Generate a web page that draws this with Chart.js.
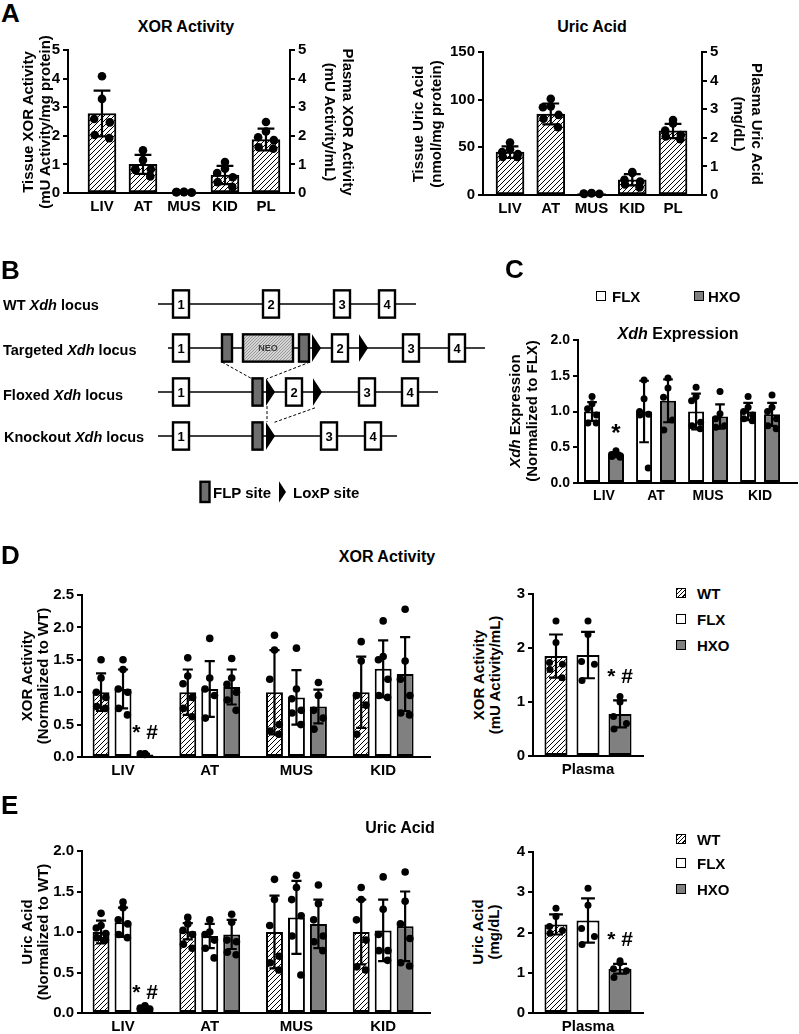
<!DOCTYPE html>
<html>
<head>
<meta charset="utf-8">
<script src="https://cdn.jsdelivr.net/npm/chart.js@4.4.1/dist/chart.umd.min.js"></script>
<style>
  html, body { margin: 0; padding: 0; background: #fff; }
  #page { position: relative; width: 799px; height: 1034px; overflow: hidden;
          font-family: "Liberation Sans", Arial, sans-serif; font-weight: bold; color: #000; }
  canvas { position: absolute; }
  .t { position: absolute; white-space: nowrap; line-height: 1; }
  .sw { position: absolute; width: 8px; height: 8px; border: 1.5px solid #000; }
</style>
</head>
<body>
<div id="page"></div>
<script>
// ================== data ==================
// A : tissue survey (WT mice)
const tissuesA = ["LIV", "AT", "MUS", "KID", "PL"];
const xorTicksA = [0, 1, 2, 3, 4, 5];
const xorTissueMean = [2.78, 1.00, 0.03, 0.63];
const xorTissueSd = [0.80, 0.33, 0.02, 0.32];
const xorTissuePts = [
  [4.08, 3.29, 2.59, 2.47, 2.03, 1.92],
  [1.49, 1.15, 0.83, 0.83, 0.80, 0.58],
  [0.04, 0.03, 0.03, 0.02, 0.03, 0.02],
  [1.08, 0.85, 0.70, 0.55, 0.38, 0.22],
];
const xorPlasmaMeanA = [1.87];
const xorPlasmaSdA = [0.38];
const xorPlasmaPtsA = [[2.48, 2.15, 1.95, 1.85, 1.60, 1.55]];

const uaTicksA = [0, 50, 100, 150];
const uaPlasmaTicksA = [0, 1, 2, 3, 4, 5];
const uaTissueMean = [45, 85, 1.5, 16];
const uaTissueSd = [6, 11, 0.5, 6];
const uaTissuePts = [
  [55, 48, 45, 43, 40, 40],
  [101, 93, 92, 84, 80, 71],
  [2.0, 1.8, 1.5, 1.2, 1.0],
  [24, 23, 16, 14, 11, 8],
];
const uaPlasmaMeanA = [2.24];
const uaPlasmaSdA = [0.25];
const uaPlasmaPtsA = [[2.62, 2.50, 2.25, 2.10, 2.05, 1.95]];

// C : Xdh expression, FLX vs HXO
const tissuesC = ["LIV", "AT", "MUS", "KID"];
const xdhTicks = [0, 0.5, 1.0, 1.5, 2.0];
const xdhFlxMean = [1.00, 1.00, 1.00, 1.00];
const xdhFlxSd = [0.13, 0.43, 0.25, 0.12];
const xdhFlxPts = [
  [1.21, 1.11, 1.04, 0.95, 0.84, 0.84],
  [1.44, 1.18, 1.00, 0.96, 0.95, 0.21],
  [1.34, 1.21, 1.15, 0.85, 0.80, 0.76],
  [1.21, 1.06, 1.00, 0.95, 0.90, 0.87],
];
const xdhHxoMean = [0.39, 1.15, 0.93, 0.96];
const xdhHxoSd = [0.03, 0.30, 0.17, 0.16];
const xdhHxoPts = [
  [0.45, 0.42, 0.40, 0.38, 0.37, 0.36],
  [1.47, 1.33, 1.20, 0.88, 0.74],
  [1.28, 0.97, 0.90, 0.80, 0.78],
  [1.23, 1.06, 1.00, 0.90, 0.80, 0.76],
];

// D : XOR activity, WT / FLX / HXO
const tissuesDE = ["LIV", "AT", "MUS", "KID"];
const plasmaCat = ["Plasma"];
const xorTicksD = [0, 0.5, 1.0, 1.5, 2.0, 2.5];
const xorWtMean = [1.00, 1.00, 1.00, 1.00];
const xorWtSd = [0.29, 0.35, 0.65, 0.55];
const xorWtPts = [
  [1.50, 1.22, 1.00, 0.92, 0.78, 0.75],
  [1.53, 1.25, 1.13, 0.92, 0.75, 0.62],
  [1.88, 1.65, 1.20, 0.50, 0.40, 0.35],
  [1.78, 1.48, 0.95, 0.80, 0.35],
];
const xorFlxMean = [1.05, 1.05, 0.92, 1.36];
const xorFlxSd = [0.30, 0.43, 0.42, 0.44];
const xorFlxPts = [
  [1.50, 1.35, 1.05, 1.00, 0.75, 0.65],
  [1.83, 1.22, 1.05, 0.95, 0.60],
  [1.68, 1.05, 0.90, 0.72, 0.68, 0.50],
  [2.10, 1.55, 1.50, 1.20, 0.95, 0.92],
];
const xorHxoMean = [0.04, 1.08, 0.78, 1.28];
const xorHxoSd = [0.01, 0.27, 0.26, 0.57];
const xorHxoPts = [
  [0.05, 0.04, 0.05],
  [1.52, 1.22, 1.12, 1.00, 0.88, 0.72],
  [1.15, 0.95, 0.72, 0.60, 0.43],
  [2.28, 1.48, 1.20, 0.95, 0.68, 0.65],
];
const xorPlasmaTicks = [0, 1, 2, 3];
const xorPlasmaMean = [1.85, 1.87, 0.78];          // WT, FLX, HXO
const xorPlasmaSd = [0.40, 0.43, 0.25];
const xorPlasmaPts = [
  [2.50, 2.10, 1.73, 1.70, 1.60, 1.45],
  [2.50, 2.25, 1.75, 1.70, 1.40],
  [1.10, 1.00, 0.73, 0.60, 0.50],
];

// E : uric acid, WT / FLX / HXO
const uaTicksE = [0, 0.5, 1.0, 1.5, 2.0];
const uaWtMean = [1.00, 1.01, 1.00, 1.00];
const uaWtSd = [0.14, 0.10, 0.45, 0.40];
const uaWtPts = [
  [1.23, 1.08, 1.05, 0.98, 0.93, 0.90],
  [1.18, 1.10, 1.02, 0.97, 0.85, 0.80],
  [1.65, 1.40, 1.08, 0.70, 0.62, 0.53],
  [1.55, 1.40, 1.15, 0.90, 0.57, 0.53],
];
const uaFlxMean = [1.12, 0.95, 1.18, 1.02];
const uaFlxSd = [0.18, 0.15, 0.45, 0.38];
const uaFlxPts = [
  [1.37, 1.30, 1.15, 1.10, 0.97, 0.93],
  [1.15, 1.00, 0.97, 0.90, 0.80, 0.68],
  [1.70, 1.55, 1.40, 1.20, 0.95, 0.47],
  [1.68, 1.28, 0.97, 0.77, 0.77, 0.65],
];
const uaHxoMean = [0.06, 0.97, 1.10, 1.07];
const uaHxoSd = [0.015, 0.18, 0.30, 0.43];
const uaHxoPts = [
  [0.09, 0.07, 0.06, 0.05, 0.05],
  [1.22, 1.12, 0.90, 0.88, 0.75, 0.72],
  [1.58, 1.35, 1.15, 0.95, 0.88, 0.77],
  [1.74, 1.38, 1.10, 0.92, 0.62, 0.58],
];
const uaPlasmaTicks = [0, 1, 2, 3, 4];
const uaPlasmaMean = [2.20, 2.30, 1.10];
const uaPlasmaSd = [0.25, 0.55, 0.12];
const uaPlasmaPts = [
  [2.60, 2.40, 2.15, 2.05, 1.98],
  [3.10, 2.68, 2.10, 1.90, 1.70],
  [1.30, 1.25, 1.10, 1.05, 0.88],
];

// B : gene targeting schematic (x = position along locus, row 0..3)
const lociLines = [[158, 416], [168, 485], [158, 438], [158, 397]];
const lociExons = [
  [["1", 181], ["2", 271], ["3", 342], ["4", 387]],
  [["1", 181], ["2", 340], ["3", 411], ["4", 457]],
  [["1", 181], ["2", 294], ["3", 367], ["4", 410]],
  [["1", 181], ["3", 329], ["4", 373]],
];
const lociFlp = [[], [227, 304], [257.5], [257.5]];
const lociLoxp = [[], [312, 359], [266, 313], [266]];
const neoSpan = [243, 293];
const flpLinks = [[222, 1.32, 252, 1.70], [310, 1.32, 267, 1.70], [267, 2.32, 267, 2.68], [315, 2.36, 273, 2.70]];
const keyRow = 4.27, keyFlpX = 205, keyLoxpX = 279;

// ================== helpers ==================
const FONT = '"Liberation Sans", Arial, sans-serif';
const JIT = [0, 0, -0.28, 0.28, -0.26, 0.26];
const page = document.getElementById("page");
Chart.defaults.font.family = FONT;
Chart.defaults.font.weight = "bold";
Chart.defaults.color = "#000";

function makeTile(s, bg, fg, lw) {
  const c = document.createElement("canvas");
  c.width = c.height = s;
  const g = c.getContext("2d");
  g.fillStyle = bg; g.fillRect(0, 0, s, s);
  g.strokeStyle = fg; g.lineWidth = lw;
  g.beginPath();
  for (const o of [-s, 0, s]) { g.moveTo(o, s); g.lineTo(o + s, 0); }
  g.stroke();
  return c;
}
const hatchTile = makeTile(5, "#fff", "#000", 1);
const neoTile = makeTile(3, "#d4d4d4", "#8c8c8c", 0.8);

function addCanvas(box) {
  const c = document.createElement("canvas");
  c.width = box.w; c.height = box.h;
  c.style.left = box.x + "px"; c.style.top = box.y + "px";
  page.appendChild(c);
  return c.getContext("2d");
}

function txt(html, x, y, size, opt = {}) {
  const d = document.createElement("div");
  d.className = "t";
  d.innerHTML = html;
  d.style.fontSize = size + "px";
  d.style.left = x + "px";
  d.style.top = y + "px";
  const rot = opt.rot ? ` rotate(${opt.rot}deg)` : "";
  d.style.transform = (opt.left ? "translate(0,-50%)" : "translate(-50%,-50%)") + rot;
  page.appendChild(d);
}

function swatch(x, y, fill) {
  const d = document.createElement("div");
  d.className = "sw";
  d.style.left = (x - 5.5) + "px";
  d.style.top = (y - 5.5) + "px";
  d.style.background = fill === "hatch"
    ? "repeating-linear-gradient(135deg, #000 0 1px, #fff 1px 3px)"
    : (fill === "gray" ? "#808080" : "#fff");
  page.appendChild(d);
}

// error bars (mean ± SD), individual points, significance marks
const errDots = {
  id: "errDots",
  afterDatasetsDraw(chart, args, o) {
    const ctx = chart.ctx;
    chart.data.datasets.forEach((ds, di) => {
      const meta = chart.getDatasetMeta(di);
      const ys = chart.scales[meta.yAxisID];
      meta.data.forEach((bar, j) => {
        const m = ds.data[j].y, sd = ds.sd[j];
        const x = bar.x, w = bar.width, cap = w * 0.3;
        const yt = ys.getPixelForValue(m + sd), yb = ys.getPixelForValue(Math.max(0, m - sd));
        ctx.save();
        ctx.strokeStyle = "#000"; ctx.lineWidth = 2.2;
        ctx.beginPath();
        ctx.moveTo(x, yt); ctx.lineTo(x, yb);
        ctx.moveTo(x - cap, yt); ctx.lineTo(x + cap, yt);
        ctx.moveTo(x - cap, yb); ctx.lineTo(x + cap, yb);
        ctx.stroke();
        ctx.fillStyle = "#000";
        ds.pts[j].forEach((v, k) => {
          ctx.beginPath();
          ctx.arc(x + JIT[k % JIT.length] * w, ys.getPixelForValue(v), o.r, 0, Math.PI * 2);
          ctx.fill();
        });
        ctx.restore();
      });
    });
    (o.notes || []).forEach(n => {
      const meta = chart.getDatasetMeta(n.ds);
      const el = meta.data[n.i];
      ctx.save();
      ctx.font = `bold ${n.size || 21}px ${FONT}`;
      ctx.fillStyle = "#000";
      ctx.textAlign = "center";
      ctx.textBaseline = "middle";
      ctx.fillText(n.text, el.x, chart.scales[meta.yAxisID].getPixelForValue(n.y));
      ctx.restore();
    });
  },
};

function yAxis(a, box, area, fs) {
  const right = a.pos === "right";
  return {
    type: "linear", position: right ? "right" : "left",
    min: a.ticks[0], max: a.ticks[a.ticks.length - 1],
    afterFit: s => { s.width = right ? box.x + box.w - area.r : area.l - box.x; },
    afterBuildTicks: s => { s.ticks = a.ticks.map(v => ({ value: v })); },
    ticks: { font: { size: fs, weight: "bold" }, color: "#000", padding: 3,
             callback: v => Number(v).toFixed(a.dec || 0) },
    grid: { drawOnChartArea: false, drawTicks: true, tickLength: 5, color: "#000", lineWidth: 2 },
    border: { color: "#000", width: 2 },
  };
}

function barChart(box, area, cfg) {
  const ctx = addCanvas(box);
  const fills = { hatch: ctx.createPattern(hatchTile, "repeat"), white: "#fff", gray: "#808080" };
  const hasRight = cfg.axes.some(a => a.pos === "right");
  const datasets = cfg.series.map(s => ({
    data: s.mean.map((m, i) => ({ x: (s.x0 || 1) + i, y: m })),
    backgroundColor: fills[s.fill], borderColor: "#000", borderWidth: 2, borderSkipped: false,
    yAxisID: s.axis || "y", sd: s.sd, pts: s.pts,
    barPercentage: cfg.bp, categoryPercentage: cfg.cp, barThickness: cfg.thick,
    grouped: cfg.grouped !== false,
  }));
  const scales = {
    x: {
      type: "linear", min: cfg.xMin, max: cfg.xMax, offset: false,
      afterFit: s => { s.height = box.y + box.h - area.b; },
      afterBuildTicks: s => { s.ticks = cfg.cats.map((c, i) => ({ value: i + 1 })); },
      ticks: { autoSkip: false, maxRotation: 0, padding: 5, color: "#000",
               font: { size: cfg.fs, weight: "bold" },
               callback: v => cfg.cats[Math.round(v) - 1] },
      grid: { display: false, drawTicks: false },
      border: { color: "#000", width: 2 },
    },
  };
  cfg.axes.forEach(a => { scales[a.id] = yAxis(a, box, area, cfg.fs); });
  new Chart(ctx, {
    type: "bar",
    data: { datasets },
    options: {
      responsive: false, animation: false,
      layout: { padding: { top: area.t - box.y, right: hasRight ? 0 : box.x + box.w - area.r, left: 0, bottom: 0 } },
      plugins: { legend: { display: false }, tooltip: { enabled: false },
                 errDots: { r: cfg.r, notes: cfg.notes } },
      scales,
    },
    plugins: [errDots],
  });
}

// three genotype series for panels D / E
function genoSeries(means, sds, pts) {
  const fills = ["hatch", "white", "gray"];
  return means.map((m, k) => ({ mean: m, sd: sds[k], pts: pts[k], fill: fills[k] }));
}
function plasmaSeries(mean, sd, pts) {
  const fills = ["hatch", "white", "gray"];
  return mean.map((m, k) => ({ mean: [m], sd: [sd[k]], pts: [pts[k]], fill: fills[k] }));
}

// ================== panel B schematic ==================
const lociDraw = {
  id: "lociDraw",
  afterDatasetsDraw(chart) {
    const ctx = chart.ctx, xs = chart.scales.x, ys = chart.scales.y;
    const px = v => xs.getPixelForValue(v), py = v => ys.getPixelForValue(v);
    const H = 0.62;
    const neo = ctx.createPattern(neoTile, "repeat");
    function box(x0, x1, r, h, fill) {
      const l = px(x0), t = py(r - h / 2), w = px(x1) - l, hh = py(r + h / 2) - t;
      ctx.fillStyle = fill; ctx.fillRect(l, t, w, hh);
      ctx.strokeStyle = "#000"; ctx.lineWidth = 2.4; ctx.strokeRect(l, t, w, hh);
    }
    function lox(x, r, w, h) {
      ctx.fillStyle = "#000";
      ctx.beginPath();
      ctx.moveTo(px(x), py(r - h / 2));
      ctx.lineTo(px(x + w), py(r));
      ctx.lineTo(px(x), py(r + h / 2));
      ctx.closePath(); ctx.fill();
    }
    ctx.save();
    ctx.textAlign = "center"; ctx.textBaseline = "middle";
    lociExons.forEach((row, r) => {
      row.forEach(([lab, x]) => {
        box(x - 8, x + 8, r, H, "#fff");
        ctx.fillStyle = "#000"; ctx.font = `bold 13px ${FONT}`;
        ctx.fillText(lab, px(x), py(r) + 1);
      });
      lociFlp[r].forEach(x => box(x - 5, x + 5, r, H, "#6e6e6e"));
      lociLoxp[r].forEach(x => lox(x, r, 9, H));
    });
    box(neoSpan[0], neoSpan[1], 1, H, neo);
    ctx.fillStyle = "#3a3a3a"; ctx.font = `bold 9px ${FONT}`;
    ctx.fillText("NEO", px((neoSpan[0] + neoSpan[1]) / 2), py(1) + 1);
    // key glyphs
    box(keyFlpX - 4.5, keyFlpX + 4.5, keyRow, 0.46, "#6e6e6e");
    lox(keyLoxpX, keyRow, 7, 0.48);
    ctx.restore();
  },
};

function schematic() {
  const ctx = addCanvas({ x: 0, y: 280, w: 510, h: 235 });
  const datasets = [];
  lociLines.forEach((s, r) => datasets.push({
    data: [{ x: s[0], y: r }, { x: s[1], y: r }], showLine: true,
    borderColor: "#000", borderWidth: 1.5, pointRadius: 0,
  }));
  flpLinks.forEach(l => datasets.push({
    data: [{ x: l[0], y: l[1] }, { x: l[2], y: l[3] }], showLine: true,
    borderColor: "#000", borderWidth: 1, borderDash: [3, 2], pointRadius: 0,
  }));
  new Chart(ctx, {
    type: "scatter",
    data: { datasets },
    options: {
      responsive: false, animation: false,
      plugins: { legend: { display: false }, tooltip: { enabled: false } },
      scales: {
        x: { type: "linear", display: false, min: 0, max: 510 },
        y: { type: "linear", display: false, min: -0.545, max: 4.795, reverse: true },
      },
    },
    plugins: [lociDraw],
  });
}

// ================== build ==================
// A left: XOR activity
barChart({ x: 0, y: 35, w: 362, h: 190 }, { l: 68, t: 50, r: 290, b: 193 }, {
  cats: tissuesA, xMin: 0.171, xMax: 5.586, thick: 28, grouped: false, fs: 15, r: 4.3,
  axes: [{ id: "y", ticks: xorTicksA }, { id: "y2", pos: "right", ticks: xorTicksA }],
  series: [
    { mean: xorTissueMean, sd: xorTissueSd, pts: xorTissuePts, fill: "hatch" },
    { mean: xorPlasmaMeanA, sd: xorPlasmaSdA, pts: xorPlasmaPtsA, fill: "hatch", axis: "y2", x0: 5 },
  ],
});
// A right: uric acid
barChart({ x: 400, y: 35, w: 380, h: 190 }, { l: 483, t: 52, r: 702, b: 195 }, {
  cats: tissuesA, xMin: 0.337, xMax: 5.711, thick: 28, grouped: false, fs: 15, r: 4.3,
  axes: [{ id: "y", ticks: uaTicksA }, { id: "y2", pos: "right", ticks: uaPlasmaTicksA }],
  series: [
    { mean: uaTissueMean, sd: uaTissueSd, pts: uaTissuePts, fill: "hatch" },
    { mean: uaPlasmaMeanA, sd: uaPlasmaSdA, pts: uaPlasmaPtsA, fill: "hatch", axis: "y2", x0: 5 },
  ],
});

schematic();

// C: Xdh expression
barChart({ x: 540, y: 320, w: 259, h: 190 }, { l: 578, t: 340, r: 797, b: 483 }, {
  cats: tissuesC, xMin: 0.5, xMax: 4.71, cp: 0.92, bp: 0.67, fs: 14, r: 3.5,
  axes: [{ id: "y", ticks: xdhTicks, dec: 1 }],
  series: [
    { mean: xdhFlxMean, sd: xdhFlxSd, pts: xdhFlxPts, fill: "white" },
    { mean: xdhHxoMean, sd: xdhHxoSd, pts: xdhHxoPts, fill: "gray" },
  ],
  notes: [{ ds: 1, i: 0, y: 0.68, text: "*", size: 24 }],
});

// D: XOR activity
barChart({ x: 40, y: 575, w: 410, h: 210 }, { l: 82, t: 595, r: 430, b: 757 }, {
  cats: tissuesDE, xMin: 0.527, xMax: 4.54, cp: 0.76, bp: 0.77, fs: 15, r: 3.8,
  axes: [{ id: "y", ticks: xorTicksD, dec: 1 }],
  series: genoSeries([xorWtMean, xorFlxMean, xorHxoMean], [xorWtSd, xorFlxSd, xorHxoSd], [xorWtPts, xorFlxPts, xorHxoPts]),
  notes: [{ ds: 2, i: 0, y: 0.36, text: "* #" }],
});
barChart({ x: 505, y: 575, w: 160, h: 210 }, { l: 533, t: 594, r: 643, b: 756 }, {
  cats: plasmaCat, xMin: 0.5, xMax: 1.5, cp: 0.873, bp: 0.72, fs: 15, r: 3.5,
  axes: [{ id: "y", ticks: xorPlasmaTicks }],
  series: plasmaSeries(xorPlasmaMean, xorPlasmaSd, xorPlasmaPts),
  notes: [{ ds: 2, i: 0, y: 1.46, text: "* #" }],
});

// E: uric acid
barChart({ x: 40, y: 830, w: 410, h: 204 }, { l: 82, t: 851, r: 430, b: 1013 }, {
  cats: tissuesDE, xMin: 0.527, xMax: 4.54, cp: 0.76, bp: 0.77, fs: 15, r: 3.8,
  axes: [{ id: "y", ticks: uaTicksE, dec: 1 }],
  series: genoSeries([uaWtMean, uaFlxMean, uaHxoMean], [uaWtSd, uaFlxSd, uaHxoSd], [uaWtPts, uaFlxPts, uaHxoPts]),
  notes: [{ ds: 2, i: 0, y: 0.25, text: "* #" }],
});
barChart({ x: 505, y: 830, w: 160, h: 204 }, { l: 533, t: 852, r: 643, b: 1013 }, {
  cats: plasmaCat, xMin: 0.5, xMax: 1.5, cp: 0.873, bp: 0.72, fs: 15, r: 3.5,
  axes: [{ id: "y", ticks: uaPlasmaTicks }],
  series: plasmaSeries(uaPlasmaMean, uaPlasmaSd, uaPlasmaPts),
  notes: [{ ds: 2, i: 0, y: 1.82, text: "* #" }],
});

// ================== text ==================
// panel letters
txt("A", 1, 13, 26, { left: true });
txt("B", 1, 270, 26, { left: true });
txt("C", 505, 269, 26, { left: true });
txt("D", 1, 555, 26, { left: true });
txt("E", 1, 805, 26, { left: true });

// A
txt("XOR Activity", 186, 27, 16);
txt("Tissue XOR Activity", 27, 122, 15, { rot: -90 });
txt("(mU Activity/mg protein)", 44, 122, 15, { rot: -90 });
txt("Plasma XOR Activity", 348, 122, 15, { rot: 90 });
txt("(mU Activity/mL)", 330, 122, 15, { rot: 90 });
txt("Uric Acid", 592, 27, 16);
txt("Tissue Uric Acid", 417, 124, 15, { rot: -90 });
txt("(nmol/mg protein)", 435, 124, 15, { rot: -90 });
txt("Plasma Uric Acid", 757, 124, 15, { rot: 90 });
txt("(mg/dL)", 739, 124, 15, { rot: 90 });

// B
txt("WT <i>Xdh</i> locus", 3, 305, 14.5, { left: true });
txt("Targeted <i>Xdh</i> locus", 3, 350, 14.5, { left: true });
txt("Floxed <i>Xdh</i> locus", 3, 395, 14.5, { left: true });
txt("Knockout <i>Xdh</i> locus", 4, 437, 14.5, { left: true });
txt("FLP site", 213, 492, 15, { left: true });
txt("LoxP site", 293, 492, 15, { left: true });

// C
swatch(601.5, 296, "white"); txt("FLX", 612, 296, 15, { left: true });
swatch(699, 296, "gray"); txt("HXO", 708, 296, 15, { left: true });
txt("<i>Xdh</i> Expression", 678, 334, 16);
txt("<i>Xdh</i> Expression", 514, 411, 15, { rot: -90 });
txt("(Normalized to FLX)", 531, 411, 15, { rot: -90 });

// D
txt("XOR Activity", 387, 557, 16);
txt("XOR Activity", 26, 676, 15, { rot: -90 });
txt("(Normalized to WT)", 42, 676, 15, { rot: -90 });
txt("XOR Activity", 478, 675, 15, { rot: -90 });
txt("(mU Activity/mL)", 494, 675, 15, { rot: -90 });
[["WT", "hatch", 593], ["FLX", "white", 619], ["HXO", "gray", 645]].forEach(([t, f, y]) => {
  swatch(681, y, f); txt(t, 697, y, 15, { left: true });
});

// E
txt("Uric Acid", 400, 828, 16);
txt("Uric Acid", 26, 932, 15, { rot: -90 });
txt("(Normalized to WT)", 42, 932, 15, { rot: -90 });
txt("Uric Acid", 477, 932, 15, { rot: -90 });
txt("(mg/dL)", 493, 932, 15, { rot: -90 });
[["WT", "hatch", 839], ["FLX", "white", 863], ["HXO", "gray", 889]].forEach(([t, f, y]) => {
  swatch(681, y, f); txt(t, 697, y, 15, { left: true });
});
</script>
</body>
</html>
